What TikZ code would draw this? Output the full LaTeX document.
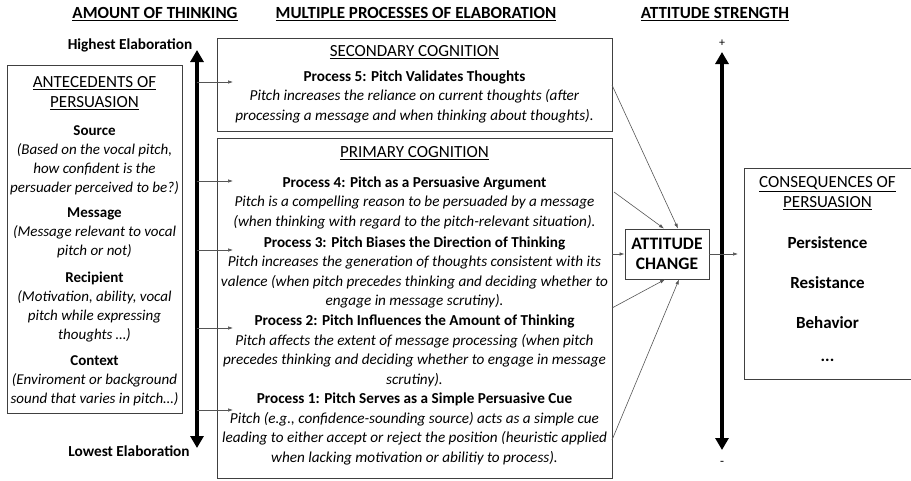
\documentclass[tikz,border=0pt]{standalone}
\usepackage{fontspec}
\setmainfont{Carlito}
\usetikzlibrary{arrows.meta}
\definecolor{boxgray}{HTML}{404040}
\definecolor{linegray}{HTML}{555555}
\begin{document}
\begin{tikzpicture}[x=1pt,y=-1pt,
  box/.style={draw=boxgray, line width=0.9pt},
  hdr/.style={font=\fontsize{17}{20}\selectfont\bfseries, inner sep=0pt},
  ttl/.style={align=center, font=\fontsize{17}{19.5}\selectfont, inner sep=0pt},
  txt/.style={align=center, font=\fontsize{15.2}{19.5}\selectfont, inner sep=0pt},
  ltxt/.style={align=center, font=\fontsize{15}{19}\selectfont, inner sep=0pt},
  cons/.style={align=center, font=\fontsize{17}{19}\selectfont\bfseries, inner sep=0pt},
  conn/.style={draw=linegray, line width=0.6pt, -{Latex[length=5pt,width=3.5pt]}},
  bigarrow/.style={line width=4pt, {Triangle[length=12pt,width=13pt]}-{Triangle[length=12pt,width=13pt]}}
]
\useasboundingbox (0,0) rectangle (911,480);

% headers
\node[hdr] (h1) at (155,14) {\underline{AMOUNT OF THINKING}};
\node[hdr] (h2) at (416,14) {\underline{MULTIPLE PROCESSES OF ELABORATION}};
\node[hdr] (h3) at (715,14) {\underline{ATTITUDE STRENGTH}};

% left axis
\node[txt, font=\fontsize{15.3}{18}\selectfont\bfseries] (hi) at (130,45) {Highest Elaboration};
\node[txt, font=\fontsize{15.3}{18}\selectfont\bfseries] (lo) at (129,451) {Lowest Elaboration};
\coordinate (ltop) at (197,50);
\coordinate (lbot) at (197,448);
\draw[bigarrow] (lbot) -- (ltop);

% antecedents box
\node[box, minimum width=175pt, minimum height=348pt, inner sep=0pt] (ante) at (94.5,239) {};
\node[ttl] (antet) at (94.5,93) {\underline{ANTECEDENTS OF}\\\underline{PERSUASION}};
\node[ltxt] (src) at (94.5,160.5) {\textbf{Source}\\\textit{(Based on the vocal pitch,}\\\textit{how confident is the}\\\textit{persuader perceived to be?)}};
\node[ltxt] (msg) at (94.5,233) {\textbf{Message}\\\textit{(Message relevant to vocal}\\\textit{pitch or not)}};
\node[ltxt] (rec) at (94.5,307) {\textbf{Recipient}\\\textit{(Motivation, ability, vocal}\\\textit{pitch while expressing}\\\textit{thoughts …)}};
\node[ltxt] (ctx) at (94.5,381) {\textbf{Context}\\\textit{(Enviroment or background}\\\textit{sound that varies in pitch…)}};

% secondary box
\node[box, minimum width=395pt, minimum height=93pt, inner sep=0pt] (sec) at (414.5,84.5) {};
\node[ttl] (sect) at (414.5,52) {\underline{SECONDARY COGNITION}};
\node[txt] (p5) at (414.5,96.5) {\textbf{Process 5: Pitch Validates Thoughts}\\\textit{Pitch increases the reliance on current thoughts (after}\\\textit{processing a message and when thinking about thoughts).}};

% primary box
\node[box, minimum width=395pt, minimum height=340pt, inner sep=0pt] (prim) at (414.5,308) {};
\node[ttl] (primt) at (414.5,153) {\underline{PRIMARY COGNITION}};
\node[txt] (p4) at (414.5,202.5) {\textbf{Process 4: Pitch as a Persuasive Argument}\\\textit{Pitch is a compelling reason to be persuaded by a message}\\\textit{(when thinking with regard to the pitch-relevant situation).}};
\node[txt] (p3) at (414.5,272.5) {\textbf{Process 3: Pitch Biases the Direction of Thinking}\\\textit{Pitch increases the generation of thoughts consistent with its}\\\textit{valence (when pitch precedes thinking and deciding whether to}\\\textit{engage in message scrutiny).}};
\node[txt] (p2) at (414.5,351) {\textbf{Process 2: Pitch Influences the Amount of Thinking}\\\textit{Pitch affects the extent of message processing (when pitch}\\\textit{precedes thinking and deciding whether to engage in message}\\\textit{scrutiny).}};
\node[txt] (p1) at (414.5,429) {\textbf{Process 1: Pitch Serves as a Simple Persuasive Cue}\\\textit{Pitch (e.g., confidence-sounding source) acts as a simple cue}\\\textit{leading to either accept or reject the position (heuristic applied}\\\textit{when lacking motivation or abilitiy to process).}};

% arrows from axis to processes
\coordinate (a5) at (197,82);  \coordinate (e5) at (233,82);
\coordinate (a4) at (197,181); \coordinate (e4) at (233,181);
\coordinate (a3) at (197,250); \coordinate (e3) at (233,250);
\coordinate (a2) at (197,328); \coordinate (e2) at (233,328);
\coordinate (a1) at (197,410); \coordinate (e1) at (233,410);
\draw[conn] (a5) -- (e5);
\draw[conn] (a4) -- (e4);
\draw[conn] (a3) -- (e3);
\draw[conn] (a2) -- (e2);
\draw[conn] (a1) -- (e1);

% attitude change
\node[box, minimum width=84pt, minimum height=50pt, inner sep=0pt, align=center,
      font=\fontsize{17.5}{20}\selectfont\bfseries] (att) at (667,254) {ATTITUDE\\CHANGE};

\coordinate (s5) at (612,85);
\coordinate (s4) at (614,192);
\coordinate (s3) at (612,254);
\coordinate (s2) at (612,308);
\coordinate (s1) at (612,440);
\draw[conn] (s5) -- (att.north -| 678,0);
\draw[conn] (s4) -- (att.north -| 664,0);
\draw[conn] (s3) -- (att.west);
\draw[conn] (s2) -- (att.south -| 665,0);
\draw[conn] (s1) -- (att.south -| 679,0);

% right axis
\coordinate (rtop) at (722,52);
\coordinate (rbot) at (722,450);
\draw[bigarrow] (rbot) -- (rtop);
\node[txt, font=\fontsize{12}{13}\selectfont] (plus) at (722,43) {+};
\node[txt, font=\fontsize{13}{13}\selectfont] (minus) at (722,463) {-};

% consequences box
\node[box, minimum width=168pt, minimum height=211pt, inner sep=0pt] (consbox) at (828,273.5) {};
\coordinate (cin) at (738,254);
\draw[conn] (att.east) -- (cin);
\node[ttl] (const) at (827.5,193) {\underline{CONSEQUENCES OF}\\\underline{PERSUASION}};
\node[cons] (pers) at (827.5,243) {Persistence};
\node[cons] (res) at (827.5,283) {Resistance};
\node[cons] (beh) at (827.5,323) {Behavior};
\node[cons] (dots) at (827.5,360) {...};
\end{tikzpicture}
\end{document}
